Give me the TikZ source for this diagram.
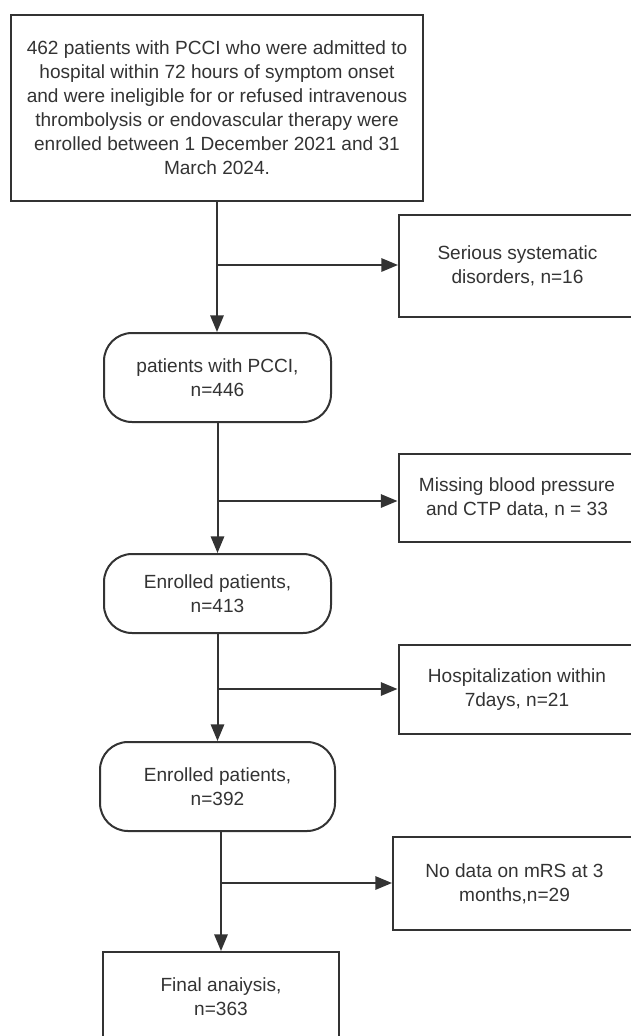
\documentclass[tikz,border=0pt]{standalone}
\usepackage{fontspec}
\setmainfont{Liberation Sans}
\usetikzlibrary{arrows.meta}
\definecolor{ink}{RGB}{51,51,51}
\tikzset{
  flowbox/.style={draw=ink, line width=1.5pt, text=ink, align=center, inner sep=0pt,
    font=\fontsize{14.3}{18}\selectfont},
  roundbox/.style={flowbox, rounded corners=21pt},
  link/.style={draw=ink, line width=1.5pt, -{Triangle[length=12.5pt,width=10pt]}}
}
\begin{document}
\begin{tikzpicture}[x=0.75pt,y=-0.75pt]
\useasboundingbox (0,0) rectangle (631,1036);
\clip (0,0) rectangle (631,1036);

% main column
\node[flowbox, minimum width=309pt, minimum height=139.5pt] (start) at (217,108)
  {462 patients with PCCI who were admitted to\\ hospital within 72 hours of symptom onset\\
   and were ineligible for or refused intravenous\\ thrombolysis or endovascular therapy were\\
   enrolled between 1 December 2021 and 31\\ March 2024.};
\node[roundbox, minimum width=170.25pt, minimum height=66.75pt] (pcci) at (217.5,377.5)
  {patients with PCCI,\\ n=446};
\node[roundbox, minimum width=170.25pt, minimum height=59.25pt] (enr1) at (217.5,593.5)
  {Enrolled patients,\\ n=413};
\node[roundbox, minimum width=176.25pt, minimum height=66.75pt] (enr2) at (217.5,786.5)
  {Enrolled patients,\\ n=392};
\node[flowbox, minimum width=177pt, minimum height=66.75pt] (final) at (221,996.5)
  {Final anaiysis,\\ n=363};

% excluded
\node[flowbox, minimum width=177.75pt, minimum height=76.5pt] (ex1) at (517.5,266)
  {Serious systematic\\ disorders, n=16};
\node[flowbox, minimum width=177.75pt, minimum height=66pt] (ex2) at (517,498)
  {Missing blood pressure\\ and CTP data, n = 33};
\node[flowbox, minimum width=177.75pt, minimum height=66.75pt] (ex3) at (517,689.5)
  {Hospitalization within\\ 7days, n=21};
\node[flowbox, minimum width=182.25pt, minimum height=69.75pt] (ex4) at (514.5,883.5)
  {No data on mRS at 3\\ months,n=29};

\coordinate (b1) at (217,265);
\coordinate (b2) at (217,501);
\coordinate (b3) at (217,689);
\coordinate (b4) at (222,883);

\draw[link] (start.south) -- (start.south |- pcci.north);
\draw[link] (pcci.south) -- (pcci.south |- enr1.north);
\draw[link] (enr1.south) -- (enr1.south |- enr2.north);
\draw[link] (final.north |- enr2.south) -- (final.north);

\draw[link] (b1) -- (b1 -| ex1.west);
\draw[link] (b2) -- (b2 -| ex2.west);
\draw[link] (b3) -- (b3 -| ex3.west);
\draw[link] (b4) -- (b4 -| ex4.west);

\end{tikzpicture}
\end{document}
